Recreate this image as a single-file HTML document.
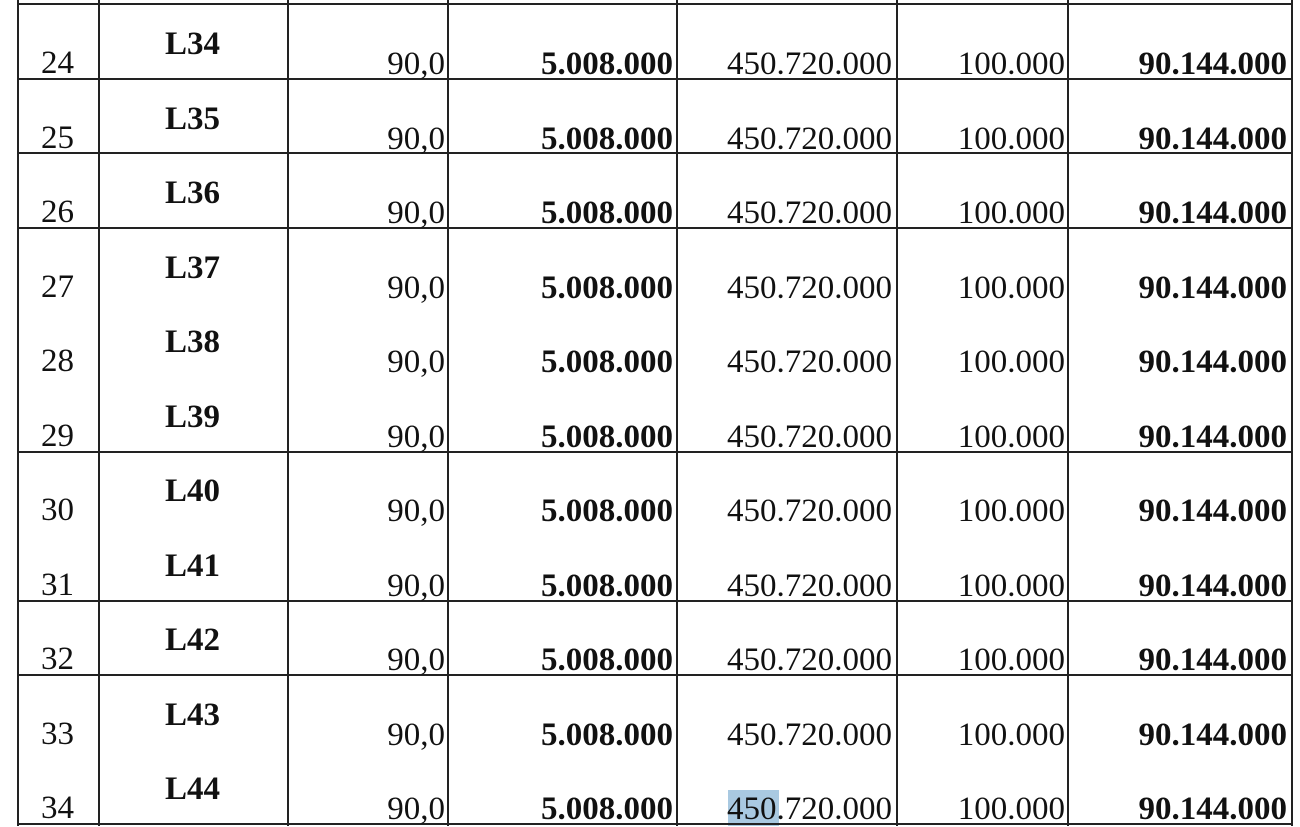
<!DOCTYPE html><html><head><meta charset="utf-8"><style>
body{margin:0;width:1300px;height:826px;background:#fff;position:relative;overflow:hidden;font-family:"Liberation Serif",serif;color:#111}
.v{position:absolute;top:0;height:826px;width:2px;background:#222}
.h{position:absolute;left:17px;width:1276px;height:2px;background:#222}
.r{position:absolute;left:0;width:1300px;height:0}
.r div{position:absolute;font-size:33px;line-height:33px;white-space:nowrap}
.n{left:17px;width:81px;text-align:center;top:43px}
.l{left:98px;width:189px;text-align:center;top:24px;font-weight:bold}
.a{right:855px;top:44px}
.b1{right:627px;top:44px;font-weight:bold}
.c{right:408px;top:44px}
.d{right:235px;top:44px}
.e{right:13px;top:44px;font-weight:bold}
.hl{position:absolute;left:728px;top:790px;width:51px;height:36px;background:#a9c9e1}
</style></head><body>
<div class="hl"></div>
<div class="v" style="left:17px"></div><div class="v" style="left:98px"></div><div class="v" style="left:287px"></div><div class="v" style="left:447px"></div><div class="v" style="left:676px"></div><div class="v" style="left:896px"></div><div class="v" style="left:1067px"></div><div class="v" style="left:1291px"></div>
<div class="h" style="top:3px"></div><div class="h" style="top:78px"></div><div class="h" style="top:152px"></div><div class="h" style="top:227px"></div><div class="h" style="top:451px"></div><div class="h" style="top:600px"></div><div class="h" style="top:674px"></div><div class="h" style="top:823px"></div>
<div class="r" style="top:4px"><div class="n">24</div><div class="l">L34</div><div class="a">90,0</div><div class="b1">5.008.000</div><div class="c">450.720.000</div><div class="d">100.000</div><div class="e">90.144.000</div></div>
<div class="r" style="top:78.5px"><div class="n">25</div><div class="l">L35</div><div class="a">90,0</div><div class="b1">5.008.000</div><div class="c">450.720.000</div><div class="d">100.000</div><div class="e">90.144.000</div></div>
<div class="r" style="top:153px"><div class="n">26</div><div class="l">L36</div><div class="a">90,0</div><div class="b1">5.008.000</div><div class="c">450.720.000</div><div class="d">100.000</div><div class="e">90.144.000</div></div>
<div class="r" style="top:227.5px"><div class="n">27</div><div class="l">L37</div><div class="a">90,0</div><div class="b1">5.008.000</div><div class="c">450.720.000</div><div class="d">100.000</div><div class="e">90.144.000</div></div>
<div class="r" style="top:302px"><div class="n">28</div><div class="l">L38</div><div class="a">90,0</div><div class="b1">5.008.000</div><div class="c">450.720.000</div><div class="d">100.000</div><div class="e">90.144.000</div></div>
<div class="r" style="top:376.5px"><div class="n">29</div><div class="l">L39</div><div class="a">90,0</div><div class="b1">5.008.000</div><div class="c">450.720.000</div><div class="d">100.000</div><div class="e">90.144.000</div></div>
<div class="r" style="top:451px"><div class="n">30</div><div class="l">L40</div><div class="a">90,0</div><div class="b1">5.008.000</div><div class="c">450.720.000</div><div class="d">100.000</div><div class="e">90.144.000</div></div>
<div class="r" style="top:525.5px"><div class="n">31</div><div class="l">L41</div><div class="a">90,0</div><div class="b1">5.008.000</div><div class="c">450.720.000</div><div class="d">100.000</div><div class="e">90.144.000</div></div>
<div class="r" style="top:600px"><div class="n">32</div><div class="l">L42</div><div class="a">90,0</div><div class="b1">5.008.000</div><div class="c">450.720.000</div><div class="d">100.000</div><div class="e">90.144.000</div></div>
<div class="r" style="top:674.5px"><div class="n">33</div><div class="l">L43</div><div class="a">90,0</div><div class="b1">5.008.000</div><div class="c">450.720.000</div><div class="d">100.000</div><div class="e">90.144.000</div></div>
<div class="r" style="top:749px"><div class="n">34</div><div class="l">L44</div><div class="a">90,0</div><div class="b1">5.008.000</div><div class="c">450.720.000</div><div class="d">100.000</div><div class="e">90.144.000</div></div>
</body></html>
